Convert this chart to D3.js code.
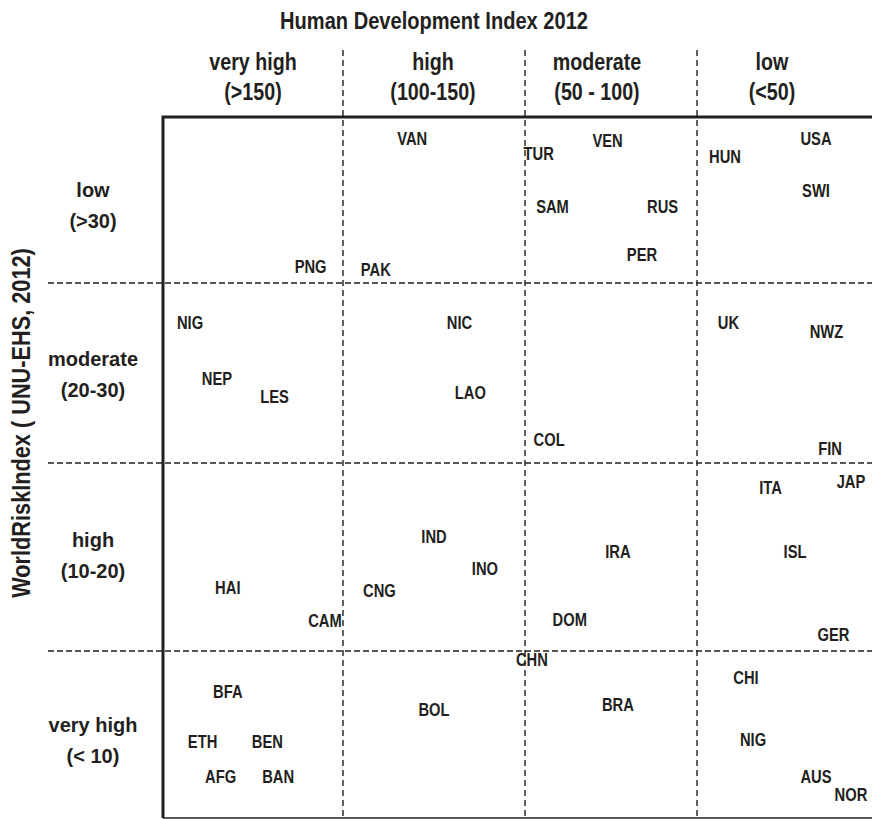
<!DOCTYPE html>
<html>
<head>
<meta charset="utf-8">
<script src="https://cdn.jsdelivr.net/npm/d3@7/dist/d3.min.js"></script>
<style>
  html, body { margin: 0; padding: 0; background: #fff; }
  svg { display: block; }
</style>
</head>
<body>
<svg id="chart" width="872" height="819"></svg>
<script>
// ---------- data ----------
const title = "Human Development Index 2012";
const yTitle = "WorldRiskIndex ( UNU-EHS, 2012)";

// HDI classes (columns) and their bounds
const hdiClasses = ["very high", "high", "moderate", "low"];
const hdiRanges  = ["(>150)", "(100-150)", "(50 - 100)", "(<50)"];
const hdiBreaks  = [200, 150, 100, 50, 0];

// WorldRiskIndex classes (rows) and their bounds
const wriClasses = ["low", "moderate", "high", "very high"];
const wriRanges  = ["(>30)", "(20-30)", "(10-20)", "(< 10)"];
const wriBreaks  = [40, 30, 20, 10, 0];

// countries: code, HDI value, WRI value
const countries = ["VAN","TUR","VEN","HUN","USA","SWI","SAM","RUS","PER","PNG","PAK",
                   "NIG","NIC","UK","NWZ","NEP","LES","LAO","COL","FIN",
                   "ITA","JAP","IND","IRA","ISL","INO","HAI","CNG","CAM","DOM","GER",
                   "CHN","CHI","BFA","BOL","BRA","ETH","BEN","NIG","AFG","BAN","AUS","NOR"];
const hdiValues = [131, 96, 76, 42, 16, 16, 92, 60, 66, 159, 141,
                   192.5, 118, 41, 13, 185, 169, 115, 93, 12,
                   29, 6, 125, 73, 22, 111, 182, 140, 155, 87, 11,
                   98, 36, 182, 125, 73, 189, 171, 34, 184, 168, 16, 6];
const wriValues = [38.7, 37.8, 38.6, 37.6, 38.7, 35.6, 34.6, 34.6, 31.7, 31.0, 30.8,
                   27.8, 27.8, 27.8, 27.3, 24.7, 23.7, 23.9, 21.3, 20.8,
                   18.7, 19.0, 16.1, 15.3, 15.3, 14.4, 13.4, 13.2, 11.6, 11.7, 10.9,
                   9.5, 8.4, 7.6, 6.5, 6.8, 4.6, 4.6, 4.7, 2.5, 2.5, 2.5, 1.4];

// ---------- drawing ----------
const svg = d3.select("#chart");
const font = "'Liberation Sans', Arial, sans-serif";
const ink = "#231f20";
const condense = 0.82;   // emulate a narrow (condensed) bold face

const x = d3.scaleLinear().domain(hdiBreaks).range([163, 343, 525, 697, 872]);
const y = d3.scaleLinear().domain(wriBreaks).range([117, 283, 463, 651, 818]);

function narrowText(parent, tx, ty, size, str, extra) {
  return parent.append("text")
    .attr("transform", `translate(${tx},${ty}) ${extra || ""} scale(${condense},1)`)
    .attr("text-anchor", "middle")
    .style("font-family", font).style("font-weight", "bold").style("font-size", size + "px")
    .attr("fill", ink).text(str);
}

// title
narrowText(svg, 434, 29, 24.5, title);

// y title (rotated)
narrowText(svg, 30, 423, 26.5, yTitle, "rotate(-90)");

// column headers
const colCenters = [253, 433, 597, 772];
hdiClasses.forEach((c, i) => {
  narrowText(svg, colCenters[i], 70, 24, c);
  narrowText(svg, colCenters[i], 100, 24, hdiRanges[i]);
});

// row headers
const rowHeaderY = [197, 366, 547, 732];
wriClasses.forEach((c, i) => {
  const g = svg.append("text").attr("text-anchor", "middle")
    .style("font-family", font).style("font-weight", "bold").style("font-size", "20px")
    .attr("fill", ink);
  g.append("tspan").attr("x", 93).attr("y", rowHeaderY[i]).text(c);
  g.append("tspan").attr("x", 93).attr("y", rowHeaderY[i] + 31).text(wriRanges[i]);
});

// dashed vertical separators
svg.selectAll("line.vdash").data(hdiBreaks.slice(1, 4)).join("line")
  .attr("class", "vdash")
  .attr("x1", d => x(d)).attr("x2", d => x(d))
  .attr("y1", 50).attr("y2", 818)
  .attr("stroke", ink).attr("stroke-width", 1.4).attr("stroke-dasharray", "6,4");

// dashed horizontal separators
svg.selectAll("line.hdash").data(wriBreaks.slice(1, 4)).join("line")
  .attr("class", "hdash")
  .attr("x1", 48).attr("x2", 872)
  .attr("y1", d => y(d)).attr("y2", d => y(d))
  .attr("stroke", ink).attr("stroke-width", 1.4).attr("stroke-dasharray", "6,3");

// solid frame (left, top, bottom)
svg.append("path")
  .attr("d", `M${x(200)},${y(0)} L${x(200)},${y(40)} L${x(0)},${y(40)}`)
  .attr("fill", "none").attr("stroke", ink).attr("stroke-width", 3);
svg.append("line")
  .attr("x1", x(200)).attr("x2", x(0)).attr("y1", y(0)).attr("y2", y(0))
  .attr("stroke", ink).attr("stroke-width", 1.5);

// country labels
svg.selectAll("text.country").data(countries).join("text")
  .attr("class", "country")
  .attr("transform", (d, i) => `translate(${x(hdiValues[i])},${y(wriValues[i])}) scale(${condense},1)`)
  .attr("text-anchor", "middle")
  .attr("dominant-baseline", "central")
  .style("font-family", font).style("font-weight", "bold").style("font-size", "18px")
  .attr("fill", ink)
  .text(d => d);
</script>
</body>
</html>
